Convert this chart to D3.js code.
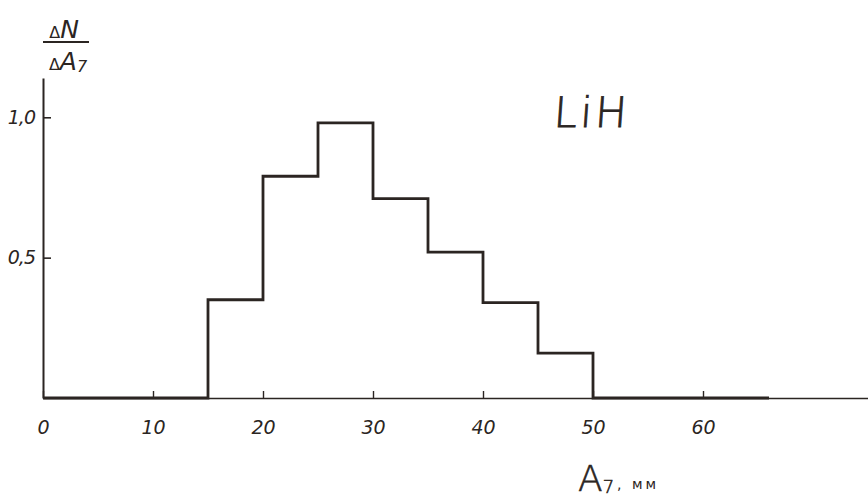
<!DOCTYPE html>
<html><head><meta charset="utf-8">
<script src="https://cdn.jsdelivr.net/npm/d3@7"></script>
<style>
html,body{margin:0;padding:0;background:#fff;}
svg{display:block;}
text{font-family:"DejaVu Sans",sans-serif;fill:#2b2522;}
</style></head>
<body>
<svg id="c" width="868" height="498"></svg>
<script>
// Data
const binEdges = [15, 20, 25, 30, 35, 40, 45, 50];
const binValues = [0.35, 0.79, 0.98, 0.71, 0.52, 0.34, 0.16];
const xTickValues = [0, 10, 20, 30, 40, 50, 60];
const xTickLabels = ["0", "10", "20", "30", "40", "50", "60"];
const yTickValues = [0.5, 1.0];
const yTickLabels = ["0,5", "1,0"];
const xRange = [0, 66];      // extent of drawn zero baseline of the histogram
const seriesLabel = "LiH";

const ink = "#2b2522";
const svg = d3.select("#c");
const x = d3.scaleLinear().domain([0, 75]).range([43, 868]);
const y = d3.scaleLinear().domain([0, 1.14]).range([398, 78]);

// x axis
const xAxis = d3.axisBottom(x)
  .tickValues(xTickValues)
  .tickFormat((d, i) => xTickLabels[i])
  .tickSizeInner(-7).tickSizeOuter(0).tickPadding(20);
const gx = svg.append("g").attr("transform", `translate(0,${y(0)})`).call(xAxis);
gx.select(".domain").attr("stroke", ink).attr("stroke-width", 1.6);
gx.selectAll(".tick line").attr("stroke", ink).attr("stroke-width", 1.4);
gx.selectAll(".tick text").attr("font-size", 19).attr("font-style", "italic").attr("fill", ink)
  .attr("dy", "0.85em");

// y axis
const yAxis = d3.axisLeft(y)
  .tickValues(yTickValues)
  .tickFormat((d, i) => yTickLabels[i])
  .tickSizeInner(-8).tickSizeOuter(0).tickPadding(8);
const gy = svg.append("g").attr("transform", `translate(${x(0)},0)`).call(yAxis);
gy.select(".domain").attr("stroke", ink).attr("stroke-width", 2);
gy.selectAll(".tick line").attr("stroke", ink).attr("stroke-width", 1.6);
gy.selectAll(".tick text").attr("font-size", 19).attr("font-style", "italic").attr("fill", ink)
  .attr("letter-spacing", -1);

// histogram step path
const pts = [[xRange[0], 0], [binEdges[0], 0]];
binValues.forEach((v, i) => {
  pts.push([binEdges[i], v]);
  pts.push([binEdges[i + 1], v]);
});
pts.push([binEdges[binEdges.length - 1], 0]);
pts.push([xRange[1], 0]);
svg.append("path")
  .attr("d", d3.line().x(d => x(d[0])).y(d => y(d[1]))(pts))
  .attr("fill", "none").attr("stroke", ink).attr("stroke-width", 2.8)
  .attr("stroke-linejoin", "miter");

// series label
svg.append("text").attr("x", 554).attr("y", 127)
  .attr("font-size", 42).attr("font-weight", 200)
  .attr("stroke", ink).attr("stroke-width", 0.8)
  .attr("letter-spacing", 3).attr("transform", "skewX(-4) translate(8,0)").text(seriesLabel);

// y axis label: ΔN / ΔA7
const yl = svg.append("g");
yl.append("text").attr("x", 66).attr("y", 38).attr("text-anchor", "middle")
  .attr("font-size", 25).attr("font-style", "italic")
  .html('<tspan font-size="16" font-style="normal" dx="-2">Δ</tspan>N');
yl.append("line").attr("x1", 43).attr("x2", 89).attr("y1", 42).attr("y2", 42)
  .attr("stroke", ink).attr("stroke-width", 2.2);
yl.append("text").attr("x", 68).attr("y", 70).attr("text-anchor", "middle")
  .attr("font-size", 25).attr("font-style", "italic")
  .html('<tspan font-size="16" font-style="normal">Δ</tspan>A<tspan font-size="16" dy="2">7</tspan>');

// x axis label: A7 , мм
svg.append("text").attr("x", 578).attr("y", 491)
  .attr("font-size", 36).attr("font-weight", 200).attr("stroke", ink).attr("stroke-width", 0.6)
  .html('A<tspan font-size="18" dy="2">7</tspan><tspan font-size="14" font-weight="normal" stroke-width="0" dx="3" dy="-4" letter-spacing="3">, мм</tspan>');
</script>
</body></html>
